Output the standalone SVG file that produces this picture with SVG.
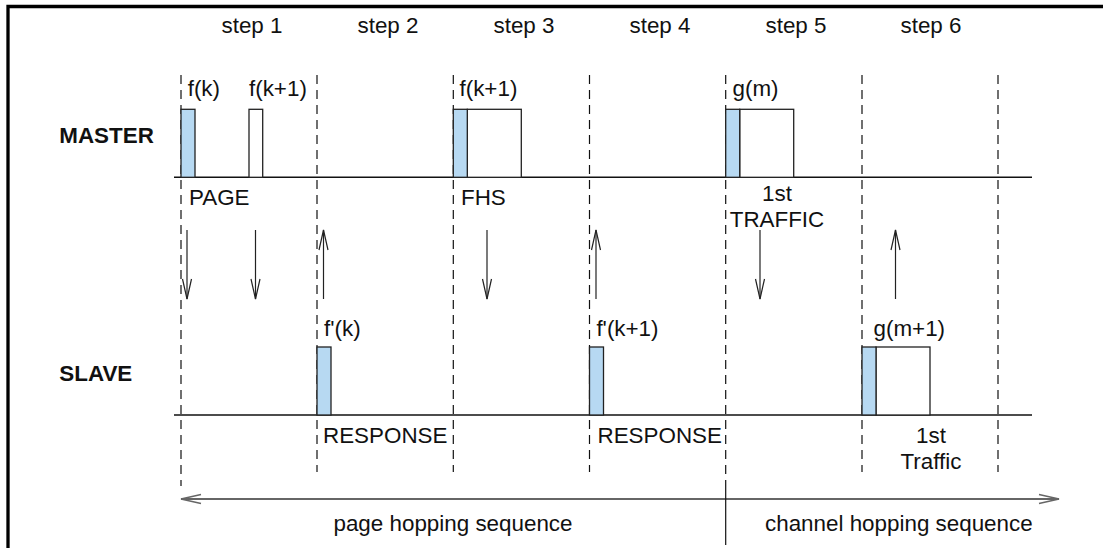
<svg xmlns="http://www.w3.org/2000/svg" width="1103" height="548" viewBox="0 0 1103 548">
<defs>
<style>
text { font-family: "Liberation Sans", Arial, sans-serif; font-size: 22.4px; fill: #111; }
.bold { font-weight: bold; }
.mid { text-anchor: middle; }
.dash { stroke: #111; stroke-width: 1.2; stroke-dasharray: 9 6; fill: none; }
.base { stroke: #111; stroke-width: 1.4; fill: none; }
.blue { fill: #b7d9f2; stroke: #222; stroke-width: 1.3; }
.white { fill: #ffffff; stroke: #222; stroke-width: 1.3; }
.arr { stroke: #222; stroke-width: 1.2; fill: none; marker-end: url(#v); }
.seq { stroke: #666; stroke-width: 2; fill: none; marker-start: url(#vs); marker-end: url(#vs); }
</style>
<marker id="v" markerUnits="userSpaceOnUse" viewBox="-21 -6 22 12" refX="0" refY="0" markerWidth="22" markerHeight="12" orient="auto">
<path d="M-20,-4.5 L0,0 L-20,4.5" fill="none" stroke="#222" stroke-width="1.2"/>
</marker>
<marker id="vs" markerUnits="userSpaceOnUse" viewBox="-21 -6 22 12" refX="0" refY="0" markerWidth="22" markerHeight="12" orient="auto-start-reverse">
<path d="M-20,-4.5 L0,0 L-20,4.5" fill="none" stroke="#666" stroke-width="1.5"/>
</marker>
</defs>

<g id="frame">
<path d="M1103,6.5 H8 V548" fill="none" stroke="#000" stroke-width="3.3"/>
</g>

<g id="steps">
<text class="mid" x="252" y="33">step 1</text>
<text class="mid" x="388" y="33">step 2</text>
<text class="mid" x="524" y="33">step 3</text>
<text class="mid" x="660" y="33">step 4</text>
<text class="mid" x="796" y="33">step 5</text>
<text class="mid" x="931" y="33">step 6</text>
</g>

<g id="grid">
<line class="dash" x1="181" y1="75" x2="181" y2="486"/>
<line class="dash" x1="317" y1="75" x2="317" y2="472"/>
<line class="dash" x1="453.3" y1="75" x2="453.3" y2="472"/>
<line class="dash" x1="589.5" y1="75" x2="589.5" y2="472"/>
<line class="dash" x1="725.7" y1="75" x2="725.7" y2="486"/>
<line class="dash" x1="862" y1="75" x2="862" y2="472"/>
<line class="dash" x1="998" y1="75" x2="998" y2="472"/>
<line class="base" x1="174" y1="177.3" x2="1032" y2="177.3"/>
<line class="base" x1="174" y1="415" x2="1032" y2="415"/>
</g>

<g id="master">
<text class="bold" x="59.3" y="143.3">MASTER</text>
</g>
<g id="slave">
<text class="bold" x="59.3" y="381">SLAVE</text>
</g>

<g id="m-page-fk">
<rect class="blue" x="181" y="109.3" width="14" height="68"/>
<text x="187.7" y="96">f(k)</text>
</g>
<g id="m-page-fk1">
<rect class="white" x="249" y="109.3" width="13.7" height="68"/>
<text x="249" y="96">f(k+1)</text>
</g>
<g id="m-page-label">
<text x="189" y="205">PAGE</text>
</g>
<g id="m-fhs">
<rect class="white" x="467.3" y="109.3" width="54" height="68"/>
<rect class="blue" x="453.3" y="109.3" width="14" height="68"/>
<text x="459.5" y="96">f(k+1)</text>
<text x="461" y="205">FHS</text>
</g>
<g id="m-traffic">
<rect class="white" x="739.7" y="109.3" width="54" height="68"/>
<rect class="blue" x="725.7" y="109.3" width="14" height="68"/>
<text x="732.5" y="96">g(m)</text>
<text class="mid" x="777" y="201">1st</text>
<text class="mid" x="777" y="227">TRAFFIC</text>
</g>

<g id="s-resp1">
<rect class="blue" x="317" y="347" width="14" height="68"/>
<text x="324" y="336">f'(k)</text>
<text x="323" y="443">RESPONSE</text>
</g>
<g id="s-resp2">
<rect class="blue" x="589.5" y="347" width="14" height="68"/>
<text x="596.4" y="336">f'(k+1)</text>
<text x="597.5" y="443">RESPONSE</text>
</g>
<g id="s-traffic">
<rect class="white" x="876" y="347" width="54" height="68"/>
<rect class="blue" x="862" y="347" width="14" height="68"/>
<text x="873.5" y="336">g(m+1)</text>
<text class="mid" x="931" y="443.3">1st</text>
<text class="mid" x="931" y="469.3">Traffic</text>
</g>

<g id="connectors">
<line class="arr" x1="187" y1="230" x2="187" y2="299"/>
<line class="arr" x1="255.5" y1="230" x2="255.5" y2="299"/>
<line class="arr" x1="323.5" y1="299" x2="323.5" y2="230"/>
<line class="arr" x1="487" y1="230" x2="487" y2="299"/>
<line class="arr" x1="596" y1="299" x2="596" y2="230"/>
<line class="arr" x1="760" y1="230" x2="760" y2="299"/>
<line class="arr" x1="895.5" y1="299" x2="895.5" y2="230"/>
<line class="seq" x1="181" y1="499" x2="1059" y2="499"/>
<line x1="725.7" y1="486" x2="725.7" y2="545" stroke="#111" stroke-width="1.2"/>
</g>

<g id="sequences">
<text class="mid" x="453" y="531">page hopping sequence</text>
<text x="765" y="531">channel hopping sequence</text>
</g>
</svg>
